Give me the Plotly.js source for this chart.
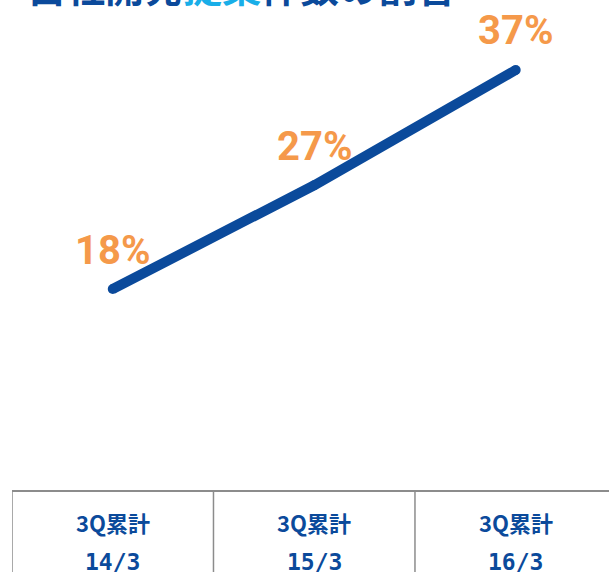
<!DOCTYPE html>
<html>
<head>
<meta charset="utf-8">
<script src="https://cdn.plot.ly/plotly-3.0.1.min.js"></script>
<style>html,body{margin:0;padding:0;background:#fff;}#chart{width:609px;height:572px;}</style>
</head>
<body>
<div id="chart"></div>
<script>
const periods = ["14/3", "15/3", "16/3"];
const rowLabel = "3Q累計";
const shares = [18, 27, 37];
const shareLabels = ["18%", "27%", "37%"];
const titleDark1 = "自社開発";
const titleCyan = "提案";
const titleDark2 = "件数の割合";

const xIdx = periods.map((p, i) => i);
const blue = "#0b4a9b";
const orange = "#f5994a";
const grid = "#8c8c8c";

const trace = {
  x: xIdx, y: shares, type: "scatter", mode: "lines+markers",
  line: {color: blue, width: 10},
  marker: {color: blue, size: 10, line: {width: 0}},
  hoverinfo: "skip"
};

const annotations = [];
shares.forEach((v, i) => {
  annotations.push({
    x: i, y: v, xref: "x", yref: "y", text: shareLabels[i], showarrow: false,
    yshift: 39, font: {family: "Roboto, Liberation Sans, sans-serif", size: 40, color: orange, weight: "bold"}
  });
  annotations.push({
    x: i, y: -0.063, xref: "x", yref: "paper", text: "<b>" + rowLabel + "</b>", showarrow: false,
    yanchor: "middle", font: {family: "Noto Sans CJK JP, sans-serif", size: 22, color: blue}
  });
  annotations.push({
    x: i, y: -0.145, xref: "x", yref: "paper", text: "<b>" + periods[i] + "</b>", showarrow: false,
    yanchor: "middle", font: {family: "DejaVu Sans Mono, monospace", size: 23, color: blue}
  });
});
annotations.push({
  x: 0.0218, y: 0.97, xref: "paper", yref: "paper", xanchor: "left", yanchor: "bottom", showarrow: false,
  text: "<b>" + titleDark1 + "<span style='color:#19aee8'>" + titleCyan + "</span>" + titleDark2 + "</b>",
  font: {family: "Noto Sans CJK JP, sans-serif", size: 39, color: blue}
});

const shapes = [
  {type: "line", xref: "paper", yref: "paper", x0: 0, x1: 1.05, y0: 0, y1: 0, line: {color: grid, width: 2}}
];
[-0.5, 0.5, 1.5].forEach(xv => {
  shapes.push({type: "line", xref: "x", yref: "paper", x0: xv, x1: xv, y0: 0, y1: -0.3, line: {color: grid, width: 1.5}});
});

const layout = {
  width: 609, height: 572,
  margin: {l: 12, r: 0, t: 0, b: 81},
  paper_bgcolor: "#fff", plot_bgcolor: "#fff",
  showlegend: false,
  xaxis: {range: [-0.5, 2.463], showgrid: false, zeroline: false, showticklabels: false, showline: false, ticks: ""},
  yaxis: {range: [0.48, 43.07], showgrid: false, zeroline: false, showticklabels: false, showline: false, ticks: ""},
  annotations: annotations,
  shapes: shapes
};

Plotly.newPlot("chart", [trace], layout, {staticPlot: true, displayModeBar: false});
</script>
</body>
</html>
